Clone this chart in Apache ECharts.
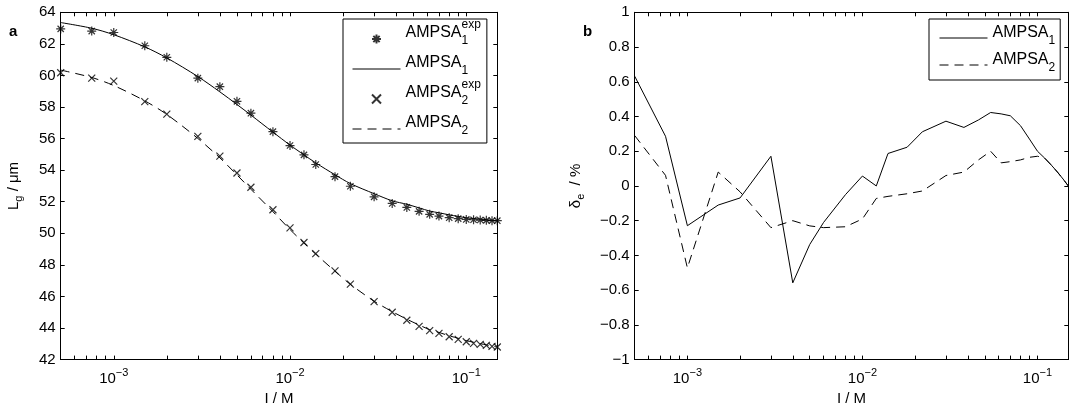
<!DOCTYPE html>
<html><head><meta charset="utf-8">
<script src="https://cdn.jsdelivr.net/npm/echarts@6/dist/echarts.min.js"></script>
<style>html,body{margin:0;padding:0;background:#fff}#c{width:1070px;height:411px}</style>
</head><body><div id="c"></div>
<script>
// ionic strength I / M
const I = [5e-4, 7.5e-4, 1e-3, 1.5e-3, 2e-3, 3e-3, 4e-3, 5e-3, 6e-3, 8e-3, 1e-2, 1.2e-2, 1.4e-2, 1.8e-2, 2.2e-2, 3e-2, 3.8e-2, 4.6e-2, 5.4e-2, 6.2e-2, 7e-2, 8e-2, 9e-2, 0.1, 0.11, 0.12, 0.13, 0.14, 0.15];
// panel a: L_g / µm
const exp1 = [62.95, 62.81, 62.72, 61.88, 61.15, 59.83, 59.29, 58.36, 57.61, 56.44, 55.56, 54.97, 54.36, 53.59, 52.98, 52.31, 51.89, 51.64, 51.39, 51.20, 51.09, 50.99, 50.93, 50.88, 50.86, 50.84, 50.82, 50.80, 50.80];
const model1 = [63.35, 62.99, 62.58, 61.81, 61.11, 59.93, 58.96, 58.16, 57.49, 56.41, 55.59, 54.97, 54.46, 53.71, 53.15, 52.51, 52.06, 51.84, 51.61, 51.41, 51.30, 51.17, 51.07, 50.98, 50.94, 50.90, 50.86, 50.82, 50.80];
const exp2 = [60.17, 59.83, 59.64, 58.34, 57.55, 56.14, 54.89, 53.82, 52.92, 51.49, 50.34, 49.42, 48.71, 47.62, 46.78, 45.67, 45.00, 44.49, 44.10, 43.84, 43.66, 43.45, 43.28, 43.13, 43.03, 42.96, 42.90, 42.84, 42.80];
const model2 = [60.34, 59.87, 59.36, 58.39, 57.53, 56.01, 54.78, 53.70, 52.79, 51.37, 50.24, 49.38, 48.68, 47.60, 46.77, 45.70, 45.04, 44.56, 44.19, 43.90, 43.72, 43.51, 43.35, 43.20, 43.10, 43.01, 42.93, 42.86, 42.80];
// panel b: deviation / %
const dev1 = [0.632, 0.286, -0.229, -0.110, -0.069, 0.171, -0.558, -0.337, -0.21, -0.05, 0.057, 0.0, 0.187, 0.223, 0.312, 0.373, 0.337, 0.38, 0.423, 0.415, 0.404, 0.347, 0.27, 0.20, 0.16, 0.12, 0.08, 0.04, 0.0];
const dev2 = [0.29, 0.061, -0.472, 0.08, -0.034, -0.24, -0.20, -0.23, -0.24, -0.235, -0.19, -0.072, -0.06, -0.045, -0.029, 0.06, 0.08, 0.15, 0.20, 0.133, 0.14, 0.15, 0.165, 0.171, 0.16, 0.12, 0.08, 0.04, 0.0];
// axis ticks
const majorTicks = [1e-3, 1e-2, 1e-1];
const allTicks = [6e-4, 7e-4, 8e-4, 9e-4, 1e-3, 2e-3, 3e-3, 4e-3, 5e-3, 6e-3, 7e-3, 8e-3, 9e-3, 1e-2, 2e-2, 3e-2, 4e-2, 5e-2, 6e-2, 7e-2, 8e-2, 9e-2, 1e-1];

const FONT = '"Liberation Sans", Arial, Helvetica, sans-serif';
const STAR = 'path://M0,4L8,4M4,0L4,8M1.2,1.2L6.8,6.8M1.2,6.8L6.8,1.2';
const CROSS = 'path://M0,0L7,7M0,7L7,0';

const grids = [
  {left: 60.7, top: 12.3, width: 436.6, height: 349.4},
  {left: 634.7, top: 12.3, width: 433.6, height: 349.4}
];

function logLabel(v) {
  const e = Math.round(Math.log10(v));
  return '{b|10}{s|' + (e < 0 ? '\u2212' : '') + Math.abs(e) + '}';
}
function xAx(g, pos, main) {
  return {
    type: 'log', logBase: 10, gridIndex: g, position: pos, min: 5e-4, max: 0.15,
    axisLine: {show: true, onZero: false, lineStyle: {color: '#000', width: 1}},
    axisTick: {show: true, inside: true, length: 4, customValues: allTicks, lineStyle: {color: '#000', width: 1}},
    axisLabel: {show: main, customValues: majorTicks, formatter: logLabel, margin: 8,
      rich: {
        b: {fontSize: 15, fontFamily: FONT, color: '#000', lineHeight: 22},
        s: {fontSize: 11, fontFamily: FONT, color: '#000', verticalAlign: 'top'}
      }},
    splitLine: {show: false}, minorTick: {show: false},
    name: main ? 'I / M' : '', nameLocation: 'middle', nameGap: 27,
    nameTextStyle: {fontSize: 15, fontFamily: FONT, color: '#000'}
  };
}
function devLabel(v) {
  const s = String(+(+v).toFixed(1));
  return s.replace('-', '\u2212');
}
function yAx(g, pos, min, max, interval, main, name, fmt, gap) {
  return {
    type: 'value', gridIndex: g, position: pos, min: min, max: max, interval: interval,
    axisLine: {show: true, onZero: false, lineStyle: {color: '#000', width: 1}},
    axisTick: {show: true, inside: true, length: 4, lineStyle: {color: '#000', width: 1}},
    axisLabel: {show: main, formatter: fmt, margin: 5, fontSize: 15, fontFamily: FONT, color: '#000'},
    splitLine: {show: false},
    name: main ? name : '', nameLocation: 'middle', nameGap: gap, nameRotate: 90,
    nameTextStyle: {fontSize: 15, fontFamily: FONT, color: '#000',
      rich: {
        a: {fontSize: 15, fontFamily: FONT, color: '#000', lineHeight: 22},
        s: {fontSize: 11, fontFamily: FONT, color: '#000', verticalAlign: 'bottom'}
      }}
  };
}

const legendNames = {
  L1exp: '{a|AMPSA}{sb|1}{sp|exp}',
  L1: '{a|AMPSA}{sb|1}{sp| }',
  L2exp: '{a|AMPSA}{sb|2}{sp|exp}',
  L2: '{a|AMPSA}{sb|2}{sp| }',
  d1: '{a|AMPSA}{sb|1}{sp| }',
  d2: '{a|AMPSA}{sb|2}{sp| }'
};
const legendRich = {
  a: {fontSize: 16, fontFamily: FONT, color: '#000', lineHeight: 28},
  sb: {fontSize: 12, fontFamily: FONT, color: '#000', verticalAlign: 'bottom', width: 0},
  sp: {fontSize: 12, fontFamily: FONT, color: '#000', verticalAlign: 'top'}
};
const hideSym = {color: 'rgba(0,0,0,0)', borderColor: 'rgba(0,0,0,0)', borderWidth: 0, opacity: 0};
function legendCfg(data, left, top, padding, gap, shift) {
  return {
    data: data, orient: 'vertical', left: left, top: top, padding: padding, itemGap: gap,
    itemWidth: 48, itemHeight: 9, selectedMode: false,
    backgroundColor: '#fff', borderColor: '#000', borderWidth: 1, borderRadius: 0,
    lineStyle: {width: 1},
    formatter: n => legendNames[n],
    textStyle: {fontSize: 16, fontFamily: FONT, color: '#000', rich: legendRich, padding: [0, 0, shift, 0]}
  };
}

const pairs = arr => I.map((x, i) => [x, arr[i]]);
const blackItem = {color: '#000', borderColor: '#000', borderWidth: 1.2};

const option = {
  animation: false,
  backgroundColor: '#fff',
  title: [
    {text: 'a', left: 9, top: 24, padding: 0, textStyle: {fontSize: 15, fontWeight: 'bold', fontFamily: FONT, color: '#000'}},
    {text: 'b', left: 583, top: 24, padding: 0, textStyle: {fontSize: 15, fontWeight: 'bold', fontFamily: FONT, color: '#000'}}
  ],
  grid: grids,
  xAxis: [xAx(0, 'bottom', true), xAx(0, 'top', false), xAx(1, 'bottom', true), xAx(1, 'top', false)],
  yAxis: [
    yAx(0, 'left', 42, 64, 2, true, '{a|L}{s|g}{a| / \u03bcm}', v => String(v), 36),
    yAx(0, 'right', 42, 64, 2, false, '', v => String(v), 36),
    yAx(1, 'left', -1, 1, 0.2, true, '{a|\u03b4}{s|e}{a|  / %}', devLabel, 48),
    yAx(1, 'right', -1, 1, 0.2, false, '', devLabel, 48)
  ],
  legend: [
    legendCfg(['L1exp', {name: 'L1', itemStyle: hideSym}, 'L2exp', {name: 'L2', itemStyle: hideSym}], 343, 19, [0, 6, 6, 9], 2, 12),
    legendCfg([{name: 'd1', itemStyle: hideSym}, {name: 'd2', itemStyle: hideSym}], 929, 19, [0, 5, 6, 10], -1, 10)
  ],
  series: [
    {type: 'scatter', name: 'L1exp', xAxisIndex: 0, yAxisIndex: 0, data: pairs(exp1),
     symbol: STAR, symbolSize: 9, itemStyle: blackItem, z: 3},
    {type: 'line', name: 'L1', xAxisIndex: 0, yAxisIndex: 0, data: pairs(model1),
     symbol: 'none', showSymbol: false, smooth: 0.3, lineStyle: {color: '#000', width: 1}, itemStyle: {color: '#000'}},
    {type: 'scatter', name: 'L2exp', xAxisIndex: 0, yAxisIndex: 0, data: pairs(exp2),
     symbol: CROSS, symbolSize: 7, itemStyle: blackItem, z: 3},
    {type: 'line', name: 'L2', xAxisIndex: 0, yAxisIndex: 0, data: pairs(model2),
     symbol: 'none', showSymbol: false, smooth: 0.3, lineStyle: {color: '#000', width: 1, type: [9, 6]}, itemStyle: {color: '#000'}},
    {type: 'line', name: 'd1', xAxisIndex: 2, yAxisIndex: 2, data: pairs(dev1),
     symbol: 'none', showSymbol: false, lineStyle: {color: '#000', width: 1}, itemStyle: {color: '#000'}},
    {type: 'line', name: 'd2', xAxisIndex: 2, yAxisIndex: 2, data: pairs(dev2),
     symbol: 'none', showSymbol: false, lineStyle: {color: '#000', width: 1, type: [9, 6]}, itemStyle: {color: '#000'}}
  ]
};
const chart = echarts.init(document.getElementById('c'), null, {renderer: 'canvas'});
chart.setOption(option);
</script>
</body></html>
